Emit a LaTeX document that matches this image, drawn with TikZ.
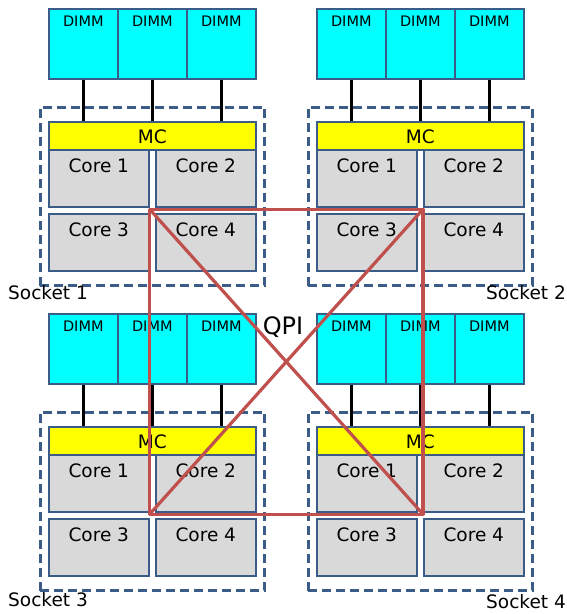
\documentclass[tikz,border=0pt]{standalone}
\usepackage{fontspec}
\setmainfont{DejaVu Sans}
\usetikzlibrary{calc, fit}
\definecolor{boxblue}{RGB}{60,92,136}
\definecolor{qpired}{RGB}{192,80,77}
\definecolor{coregray}{RGB}{217,217,217}
\definecolor{dimmcyan}{RGB}{0,255,255}
\definecolor{mcyellow}{RGB}{255,255,0}

\tikzset{
  unit/.style={draw=boxblue, line width=1.6pt, inner sep=0pt, anchor=north west},
  dimm/.style={unit, fill=dimmcyan, minimum width=69pt, minimum height=70pt,
    label={[anchor=north, inner sep=0pt, yshift=-8pt, font=\fontsize{14.5}{16}\selectfont]north:DIMM}},
  mc/.style={unit, fill=mcyellow, minimum width=207pt, minimum height=28pt, font=\fontsize{18.5}{20}\selectfont,
    text height=16pt, text depth=0pt},
  core/.style={unit, fill=coregray, minimum width=100pt, minimum height=57pt},
  coretext/.style={anchor=north, inner sep=0pt, yshift=-10pt, font=\fontsize{18.5}{20}\selectfont},
  socket/.style={draw=boxblue, line width=3pt, dash pattern=on 9pt off 5pt, inner xsep=8pt, inner ysep=14pt},
  sockettext/.style={inner sep=0pt, font=\fontsize{18.5}{20}\selectfont},
  channel/.style={black, line width=3pt},
  qpi/.style={qpired, line width=3.2pt, line join=round}
}

\begin{document}
\begin{tikzpicture}[x=1pt, y=-1pt]
  \useasboundingbox (0,0) rectangle (567,614);

  % four sockets
  \foreach \s/\dx/\dy in {1/0/0, 2/268/0, 3/0/305, 4/268/305} {
    \begin{scope}[shift={(\dx,\dy)}]
      % DIMMs
      \node[dimm] (s\s-d1) at (48,8) {};
      \node[dimm] (s\s-d2) at (117,8) {};
      \node[dimm] (s\s-d3) at (186,8) {};
      % memory controller and cores
      \node[mc] (s\s-mc) at (48,121) {MC};
      \node[core, label={[coretext]north:Core 1}] (s\s-c1) at (48,149) {};
      \node[core, label={[coretext]north:Core 2}] (s\s-c2) at (155,149) {};
      \node[core, label={[coretext]north:Core 3}] (s\s-c3) at (48,213) {};
      \node[core, label={[coretext]north:Core 4}] (s\s-c4) at (155,213) {};
      \node[socket, fit=(s\s-mc)(s\s-c4)] (s\s) {};
      % memory channels
      \foreach \d in {1,2,3}
        \draw[channel] (s\s-d\d.south) -- (s\s-d\d.south |- s\s-mc.north);
    \end{scope}
  }

  \node[sockettext, anchor=west] (lab1) at (8,293) {Socket 1};
  \node[sockettext, anchor=east] (lab2) at (566,293) {Socket 2};
  \node[sockettext, anchor=west] (lab3) at (8,600) {Socket 3};
  \node[sockettext, anchor=east] (lab4) at (566,602) {Socket 4};

  % QPI links
  \coordinate (q1) at ($(s1-c1.south east)!.3!(s1-c3.north east)$);
  \coordinate (q2) at ($(s2-c2.south west)!.3!(s2-c4.north west)$);
  \coordinate (q3) at ($(s3-c1.south east)!.3!(s3-c3.north east)$);
  \coordinate (q4) at ($(s4-c2.south west)!.3!(s4-c4.north west)$);
  \draw[qpi] (q1) -- (q2) -- (q4) -- (q3) -- cycle;
  \draw[qpi] (q1) -- (q4);
  \draw[qpi] (q2) -- (q3);
  \node[font=\fontsize{24}{28}\selectfont] (qpi) at (283,327) {QPI};
\end{tikzpicture}
\end{document}
